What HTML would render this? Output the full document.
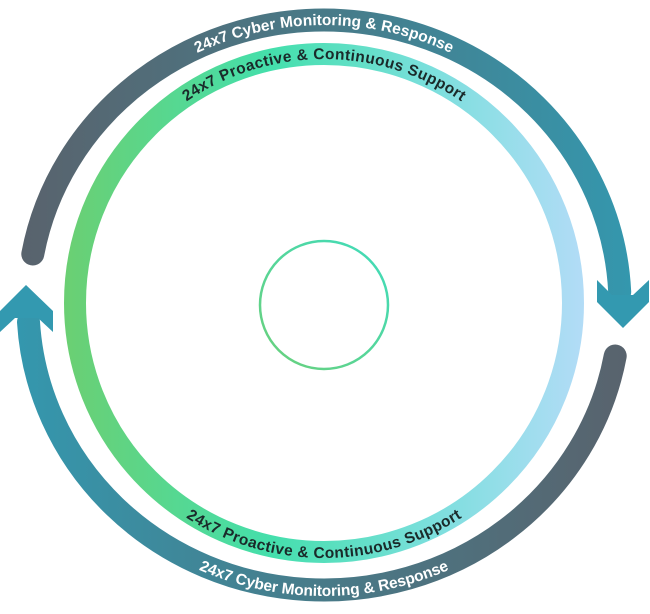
<!DOCTYPE html>
<html><head><meta charset="utf-8"><style>
html,body{margin:0;padding:0;background:#fff;}
svg{display:block;}
text{font-family:"Liberation Sans",sans-serif;font-size:15.5px;font-weight:bold;}
</style></head><body>
<svg width="650" height="614" viewBox="0 0 650 614" xmlns="http://www.w3.org/2000/svg">
<defs>
<linearGradient id="gTop" x1="0" y1="0" x2="650" y2="0" gradientUnits="userSpaceOnUse">
<stop offset="0" stop-color="#5a616b"/><stop offset="0.5" stop-color="#487a88"/><stop offset="1" stop-color="#3399b0"/>
</linearGradient>
<linearGradient id="gBot" x1="0" y1="0" x2="650" y2="0" gradientUnits="userSpaceOnUse">
<stop offset="0" stop-color="#3399b0"/><stop offset="0.5" stop-color="#487a88"/><stop offset="1" stop-color="#5a616b"/>
</linearGradient>
<linearGradient id="gIn" x1="63" y1="0" x2="585" y2="0" gradientUnits="userSpaceOnUse">
<stop offset="0" stop-color="#6bcf72"/><stop offset="0.4" stop-color="#44dfac"/><stop offset="0.7" stop-color="#7adfdc"/><stop offset="1" stop-color="#b3dcf7"/>
</linearGradient>
<linearGradient id="gC" x1="0" y1="1" x2="1" y2="0">
<stop offset="0" stop-color="#6bd07a"/><stop offset="1" stop-color="#3fdcbc"/>
</linearGradient>
<path id="pOT" d="M 33,305 A 291 280 0 0 1 615 305"/>
<path id="pOB" d="M 23,305 A 301 291 0 0 0 625 305"/>
<path id="pIT" d="M 80,303 A 244 244 0 0 1 568 303"/>
<path id="pIB" d="M 69,303 A 255 255 0 0 0 579 303"/>
</defs>

<circle cx="324" cy="303" r="249" fill="none" stroke="url(#gIn)" stroke-width="22"/>

<path d="M 32.8,254 A 296 285 0 0 1 619.7,292" fill="none" stroke="url(#gTop)" stroke-width="23" stroke-linecap="round"/>
<polygon points="597,280 612,295 633,295 649,280 649,302 623,328 597,302" fill="#3399b0"/>

<path d="M 615.2,356 A 296 285 0 0 1 28.5,322" fill="none" stroke="url(#gBot)" stroke-width="23" stroke-linecap="round"/>
<polygon points="26,285 53,311 53,332 38,318 15,318 0,332 0,311" fill="#3399b0"/>

<circle cx="324" cy="305" r="64" fill="none" stroke="url(#gC)" stroke-width="2.5"/>

<text fill="#ffffff"><textPath href="#pOT" startOffset="50%" text-anchor="middle" textLength="262" lengthAdjust="spacing">24x7 Cyber Monitoring &amp; Response</textPath></text>
<text fill="#ffffff"><textPath href="#pOB" startOffset="50%" text-anchor="middle" textLength="258" lengthAdjust="spacing">24x7 Cyber Monitoring &amp; Response</textPath></text>
<text fill="#1a2a2a"><textPath href="#pIT" startOffset="50%" text-anchor="middle" textLength="292" lengthAdjust="spacing">24x7 Proactive &amp; Continuous Support</textPath></text>
<text fill="#1a2a2a"><textPath href="#pIB" startOffset="50%" text-anchor="middle" textLength="292" lengthAdjust="spacing">24x7 Proactive &amp; Continuous Support</textPath></text>
</svg>
</body></html>
